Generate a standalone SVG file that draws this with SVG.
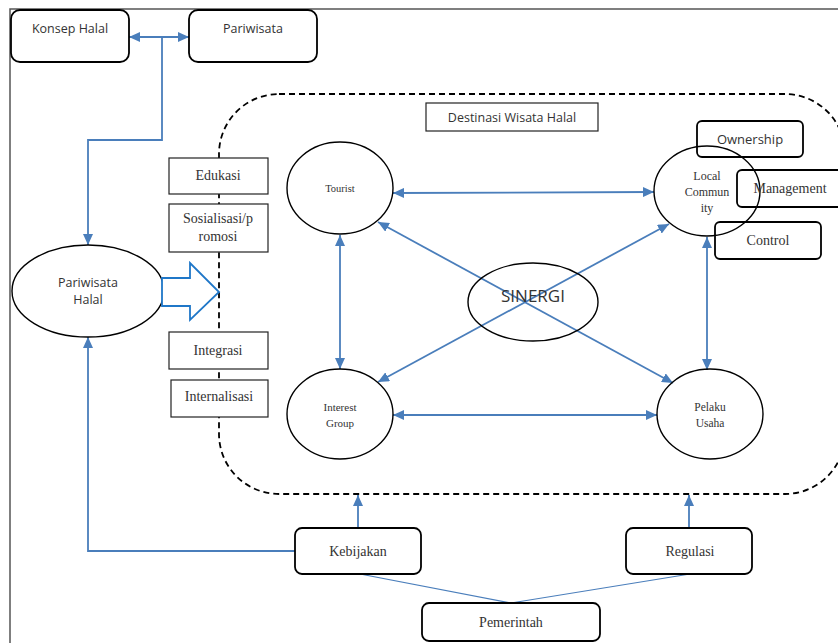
<svg xmlns="http://www.w3.org/2000/svg" width="838" height="643" viewBox="0 0 838 643">
<style>
.frame{stroke:#555;stroke-width:1.5;fill:none}
.rbox{fill:none;stroke:#000;stroke-width:1.8}
.sbox{fill:#fff;stroke:#222;stroke-width:1.2}
.ell{fill:none;stroke:#000;stroke-width:1.4}
.con{fill:none;stroke:#4A7EBB;stroke-width:1.8}
.thin{fill:none;stroke:#4A7EBB;stroke-width:1.2}
.sans{font-family:"Open Sans","Liberation Sans",sans-serif;fill:#333;text-anchor:middle}
.serif{font-family:"Liberation Serif","Times New Roman",serif;fill:#333;text-anchor:middle}
</style>
<defs>
<marker id="ah" markerUnits="userSpaceOnUse" markerWidth="12" markerHeight="10" refX="11" refY="5" orient="auto-start-reverse">
<path d="M0,0 L11,5 L0,10 z" fill="#4A7EBB"/>
</marker>
</defs>
<rect width="838" height="643" fill="#fff"/>
<path class="frame" d="M10,643 V9 H838"/>

<g id="destinasi-region">
<rect x="219" y="94" width="626" height="400" rx="60" ry="60" fill="none" stroke="#000" stroke-width="1.8" stroke-dasharray="6,4"/>
</g>

<g id="connectors">
<path class="con" d="M129,37 H189" marker-start="url(#ah)" marker-end="url(#ah)"/>
<path class="con" d="M162,37 V140 H88 V245" marker-end="url(#ah)"/>
<path class="con" d="M295,551 H88 V337" marker-end="url(#ah)"/>
<path class="con" d="M393,193 L654,192" marker-start="url(#ah)" marker-end="url(#ah)"/>
<path class="con" d="M340,235 V369" marker-start="url(#ah)" marker-end="url(#ah)"/>
<path class="con" d="M707,237 V370" marker-start="url(#ah)" marker-end="url(#ah)"/>
<path class="con" d="M393,415 H657" marker-start="url(#ah)" marker-end="url(#ah)"/>
<path class="con" d="M378,222 L673,383" marker-start="url(#ah)" marker-end="url(#ah)"/>
<path class="con" d="M378,382 L669,224" marker-start="url(#ah)" marker-end="url(#ah)"/>
<path class="con" d="M358,528 V495" marker-end="url(#ah)"/>
<path class="con" d="M689,528 V495" marker-end="url(#ah)"/>
<path class="thin" d="M360,574 L511,603 L690,574"/>
</g>

<g id="konsep-halal">
<rect class="rbox" x="11" y="10" width="118" height="52" rx="9"/>
<text class="sans" x="70" y="33" font-size="12.5">Konsep Halal</text>
</g>
<g id="pariwisata">
<rect class="rbox" x="189" y="10" width="128" height="52" rx="9"/>
<text class="sans" x="253" y="33" font-size="12.5">Pariwisata</text>
</g>
<g id="pariwisata-halal">
<ellipse class="ell" cx="88" cy="291" rx="76" ry="46" stroke-width="1.8"/>
<text class="sans" x="88" y="287" font-size="12.5">Pariwisata</text>
<text class="sans" x="88" y="304" font-size="12.5">Halal</text>
</g>
<g id="block-arrow">
<path d="M162,278 H190 V263 L219,292 L190,320 V306 H162 Z" fill="#fff" stroke="#1F77C8" stroke-width="1.8"/>
</g>

<g id="destinasi-label">
<rect class="sbox" x="426" y="103" width="172" height="28"/>
<text class="sans" x="512" y="122" font-size="12.5">Destinasi Wisata Halal</text>
</g>

<g id="edukasi">
<rect class="sbox" x="169" y="158" width="99" height="36"/>
<text class="serif" x="218" y="180" font-size="14">Edukasi</text>
</g>
<g id="sosialisasi">
<rect class="sbox" x="169" y="204" width="99" height="48"/>
<text class="serif" x="218" y="223" font-size="14">Sosialisasi/p</text>
<text class="serif" x="218" y="241" font-size="14">romosi</text>
</g>
<g id="integrasi">
<rect class="sbox" x="169" y="332" width="99" height="37"/>
<text class="serif" x="218" y="355" font-size="14">Integrasi</text>
</g>
<g id="internalisasi">
<rect class="sbox" x="171" y="380" width="97" height="37"/>
<text class="serif" x="219" y="401" font-size="14">Internalisasi</text>
</g>

<g id="tourist">
<ellipse class="ell" cx="340" cy="188" rx="53" ry="46"/>
<text class="serif" x="340" y="192" font-size="10.5">Tourist</text>
</g>
<g id="local-community">
<ellipse class="ell" cx="707" cy="191" rx="53" ry="45"/>
<text class="serif" x="707" y="180" font-size="12">Local</text>
<text class="serif" x="707" y="196" font-size="12">Commun</text>
<text class="serif" x="707" y="212" font-size="12">ity</text>
</g>
<g id="ownership">
<rect class="rbox" x="697" y="121" width="106" height="36" rx="5"/>
<text class="sans" x="750" y="144" font-size="13">Ownership</text>
</g>
<g id="management">
<rect class="rbox" x="737" y="170" width="110" height="37" rx="5"/>
<text class="serif" x="790" y="193" font-size="14">Management</text>
</g>
<g id="control">
<rect class="rbox" x="715" y="222" width="106" height="37" rx="5"/>
<text class="serif" x="768" y="245" font-size="14">Control</text>
</g>
<g id="interest-group">
<ellipse class="ell" cx="340" cy="414" rx="53" ry="45"/>
<text class="serif" x="340" y="411" font-size="11">Interest</text>
<text class="serif" x="340" y="427" font-size="11">Group</text>
</g>
<g id="pelaku-usaha">
<ellipse class="ell" cx="710" cy="414" rx="53" ry="45"/>
<text class="serif" x="710" y="411" font-size="11.5">Pelaku</text>
<text class="serif" x="710" y="427" font-size="11.5">Usaha</text>
</g>
<g id="sinergi">
<ellipse class="ell" cx="533" cy="302" rx="65" ry="39" stroke-width="2.5"/>
<text class="sans" x="533" y="302" font-size="17">SINERGI</text>
</g>

<g id="kebijakan">
<rect class="rbox" x="295" y="528" width="126" height="46" rx="7"/>
<text class="serif" x="358" y="556" font-size="14">Kebijakan</text>
</g>
<g id="regulasi">
<rect class="rbox" x="626" y="528" width="126" height="46" rx="7"/>
<text class="serif" x="690" y="556" font-size="14">Regulasi</text>
</g>
<g id="pemerintah">
<rect class="rbox" x="422" y="603" width="178" height="38" rx="7"/>
<text class="serif" x="511" y="627" font-size="14">Pemerintah</text>
</g>
</svg>
